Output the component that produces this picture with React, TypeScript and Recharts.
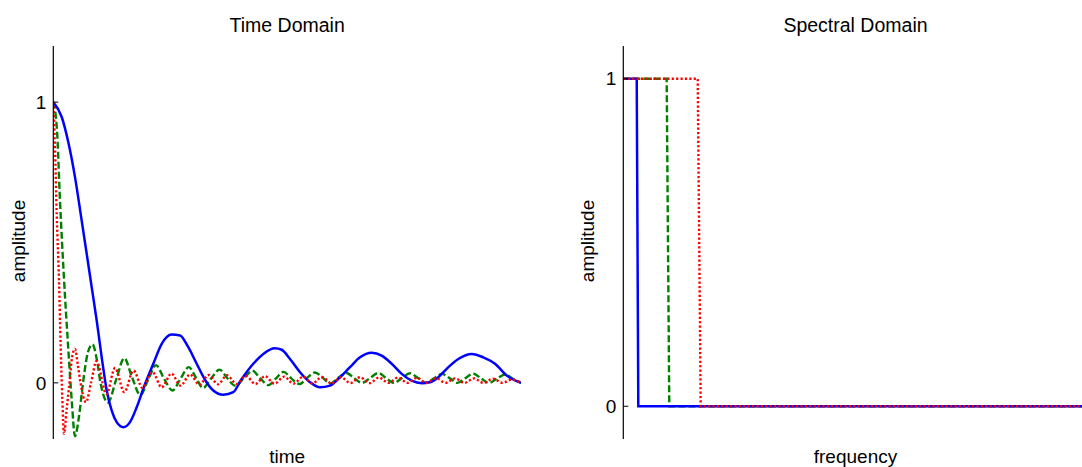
import React from 'react';
import { LineChart, Line, XAxis, YAxis } from 'recharts';

const FONT = '"Liberation Sans", Arial, Helvetica, sans-serif';

// ---- Time domain: impulse responses of three low-pass filters ----
const blueTime = [0, 1.8, 3.21, 4.64, 6.07, 7.14, 8.21, 9.28, 10.35, 11.42, 12.49, 13.56, 14.97, 16.4, 17.83, 19.61, 21.38, 23.18, 25.31, 27.09, 28.86, 30.66, 32.65, 34.21, 36.35, 38.49, 40.13, 42.76, 44.9, 47.4, 48.83, 50.61, 52.75, 54.89, 57.02, 59.16, 61.3, 63.44, 65.58, 68.08, 70.21, 72.35, 74.49, 76.63, 78.77, 80.54, 82.31, 84.11, 86.59, 89.46, 91.94, 94.44, 96.94, 100];
const blueAmp = [1.0, 0.947, 0.857, 0.733, 0.578, 0.46, 0.341, 0.222, 0.091, -0.027, -0.099, -0.14, -0.158, -0.14, -0.087, -0.004, 0.068, 0.139, 0.172, 0.169, 0.127, 0.068, 0.005, -0.027, -0.042, -0.033, 0.01, 0.068, 0.103, 0.123, 0.118, 0.085, 0.038, 0.002, -0.016, -0.01, 0.02, 0.056, 0.091, 0.107, 0.097, 0.068, 0.032, 0.008, -0.001, 0.002, 0.02, 0.05, 0.085, 0.103, 0.091, 0.068, 0.026, 0.0];

const greenTime = [0, 0.79, 1.43, 2.29, 3.21, 3.93, 4.64, 5.49, 6.35, 7.42, 8.38, 9.34, 10.09, 11.7, 13.41, 15.18, 16.83, 18.6, 20.25, 21.96, 23.67, 25.49, 27.2, 28.97, 30.51, 32.01, 33.72, 35.53, 37.14, 38.85, 40.78, 42.59, 44.19, 46.01, 47.62, 49.22, 50.82, 52.64, 54.24, 55.95, 57.66, 59.27, 60.87, 62.69, 64.29, 66.0, 67.71, 69.49, 71.13, 72.84, 74.55, 76.27, 77.98, 79.58, 81.4, 83.06, 84.82, 86.42, 88.03, 89.8, 91.45, 93.16, 94.87, 96.58, 98.29, 100];
const greenAmp = [1.0, 0.9, 0.65, 0.37, 0.12, -0.06, -0.19, -0.12, 0.0, 0.11, 0.137, 0.08, 0.0, -0.07, 0.01, 0.088, 0.02, -0.043, 0.01, 0.063, 0.015, -0.027, 0.015, 0.056, 0.018, -0.018, 0.015, 0.047, 0.018, -0.01, 0.017, 0.043, 0.017, -0.008, 0.016, 0.039, 0.017, -0.004, 0.017, 0.037, 0.017, -0.002, 0.017, 0.035, 0.017, 0.0, 0.017, 0.035, 0.017, 0.0, 0.017, 0.034, 0.017, 0.0, 0.016, 0.032, 0.016, 0.0, 0.016, 0.033, 0.016, 0.0, 0.015, 0.03, 0.014, 0.0];

const redTime = [0, 0.36, 0.73, 1.22, 1.58, 1.92, 2.29, 2.82, 3.46, 4.0, 4.64, 5.28, 5.82, 6.99, 8.06, 9.24, 11.37, 13.19, 15.18, 17.15, 19.07, 21.21, 23.18, 25.27, 27.2, 29.23, 31.26, 33.18, 35.21, 37.14, 39.17, 41.2, 43.23, 45.26, 47.29, 49.33, 51.36, 53.39, 55.42, 57.45, 59.48, 61.51, 63.54, 65.58, 67.61, 69.64, 71.67, 73.71, 75.74, 77.77, 79.8, 81.84, 83.87, 85.9, 87.93, 89.96, 91.98, 94.01, 96.04, 98.07, 100];
const redAmp = [1.0, 0.84, 0.6, 0.365, 0.127, -0.05, -0.182, -0.1, 0.0, 0.09, 0.121, 0.06, 0.0, -0.069, 0.0, 0.077, -0.04, 0.053, -0.033, 0.044, -0.018, 0.038, -0.016, 0.033, -0.01, 0.03, -0.007, 0.028, -0.005, 0.027, -0.004, 0.025, -0.004, 0.024, -0.003, 0.022, -0.003, 0.022, -0.002, 0.021, -0.002, 0.02, -0.001, 0.02, -0.001, 0.019, 0.0, 0.019, 0.0, 0.018, 0.0, 0.017, 0.0, 0.016, 0.0, 0.016, 0.0, 0.015, 0.0, 0.012, 0.0];

// ---- Spectral domain: ideal low-pass magnitude responses ----
const blueFreq = [0, 2.88, 3.22, 100];
const blueMag = [1, 1, 0, 0];
const greenFreq = [0, 9.31, 9.87, 100];
const greenMag = [1, 1, 0, 0];
const redFreq = [0, 15.97, 16.61, 100];
const redMag = [1, 1, 0, 0];

const amplitudeTicks = [0, 1];

const zip = (xs: number[], ys: number[]) => xs.map((x, i) => ({ x, y: ys[i] }));

const blueTimeData = zip(blueTime, blueAmp);
const greenTimeData = zip(greenTime, greenAmp);
const redTimeData = zip(redTime, redAmp);
const blueSpecData = zip(blueFreq, blueMag);
const greenSpecData = zip(greenFreq, greenMag);
const redSpecData = zip(redFreq, redMag);

const BLUE = '#0000ff';
const GREEN = '#008000';
const RED = '#ff0000';

const textStyle = { fontFamily: FONT, fill: '#000' };

function Panel(props: {
  left: number;
  width: number;
  marginRight: number;
  yDomain: [number, number];
  lineType: 'monotone' | 'linear';
  blue: { x: number; y: number }[];
  green: { x: number; y: number }[];
  red: { x: number; y: number }[];
  title: string;
  titleX: number;
  xLabel: string;
  xLabelY: number;
  yLabelX: number;
}) {
  const p = props;
  return (
    <div style={{ position: 'absolute', left: p.left, top: 0 }}>
      <LineChart
        width={p.width}
        height={467}
        margin={{ top: 46, right: p.marginRight, bottom: 28, left: 0 }}
      >
        <XAxis
          type="number"
          dataKey="x"
          domain={[0, 100]}
          allowDataOverflow
          height={0}
          tick={false}
          tickLine={false}
          axisLine={{ stroke: '#000', strokeWidth: 1.2 }}
        />
        <YAxis
          type="number"
          dataKey="y"
          domain={p.yDomain}
          allowDataOverflow
          ticks={amplitudeTicks}
          width={53.3}
          tickSize={-5}
          tickMargin={12}
          tick={{ fill: '#000', fontSize: 19, fontFamily: FONT }}
          tickLine={{ stroke: '#000' }}
          axisLine={{ stroke: '#000', strokeWidth: 1.2 }}
        />
        <Line
          data={p.green}
          dataKey="y"
          type={p.lineType}
          stroke={GREEN}
          strokeWidth={2.4}
          strokeDasharray="7 3"
          dot={false}
          activeDot={false}
          isAnimationActive={false}
        />
        <Line
          data={p.blue}
          dataKey="y"
          type={p.lineType}
          stroke={BLUE}
          strokeWidth={2.5}
          dot={false}
          activeDot={false}
          isAnimationActive={false}
        />
        <Line
          data={p.red}
          dataKey="y"
          type={p.lineType}
          stroke={RED}
          strokeWidth={2.4}
          strokeDasharray="2.2 2.2"
          dot={false}
          activeDot={false}
          isAnimationActive={false}
        />
        <text x={p.titleX} y={32} textAnchor="middle" fontSize={19.5} style={textStyle}>
          {p.title}
        </text>
        <text x={p.titleX} y={p.xLabelY} textAnchor="middle" fontSize={19} style={textStyle}>
          {p.xLabel}
        </text>
        <text
          x={p.yLabelX}
          y={241}
          textAnchor="middle"
          fontSize={19}
          transform={`rotate(-90 ${p.yLabelX} 241)`}
          style={textStyle}
        >
          amplitude
        </text>
      </LineChart>
    </div>
  );
}

export default function App() {
  return (
    <div
      style={{
        position: 'fixed',
        left: 0,
        top: 0,
        width: 1082,
        height: 467,
        overflow: 'hidden',
        background: '#fff',
      }}
    >
      <Panel
        left={0}
        width={560}
        marginRight={39}
        yDomain={[-0.2, 1.2]}
        lineType="monotone"
        blue={blueTimeData}
        green={greenTimeData}
        red={redTimeData}
        title="Time Domain"
        titleX={287.2}
        xLabel="time"
        xLabelY={463}
        yLabelX={25}
      />
      <Panel
        left={570}
        width={540}
        marginRight={20.7}
        yDomain={[-0.1, 1.1]}
        lineType="linear"
        blue={blueSpecData}
        green={greenSpecData}
        red={redSpecData}
        title="Spectral Domain"
        titleX={285.5}
        xLabel="frequency"
        xLabelY={463}
        yLabelX={23.5}
      />
    </div>
  );
}
